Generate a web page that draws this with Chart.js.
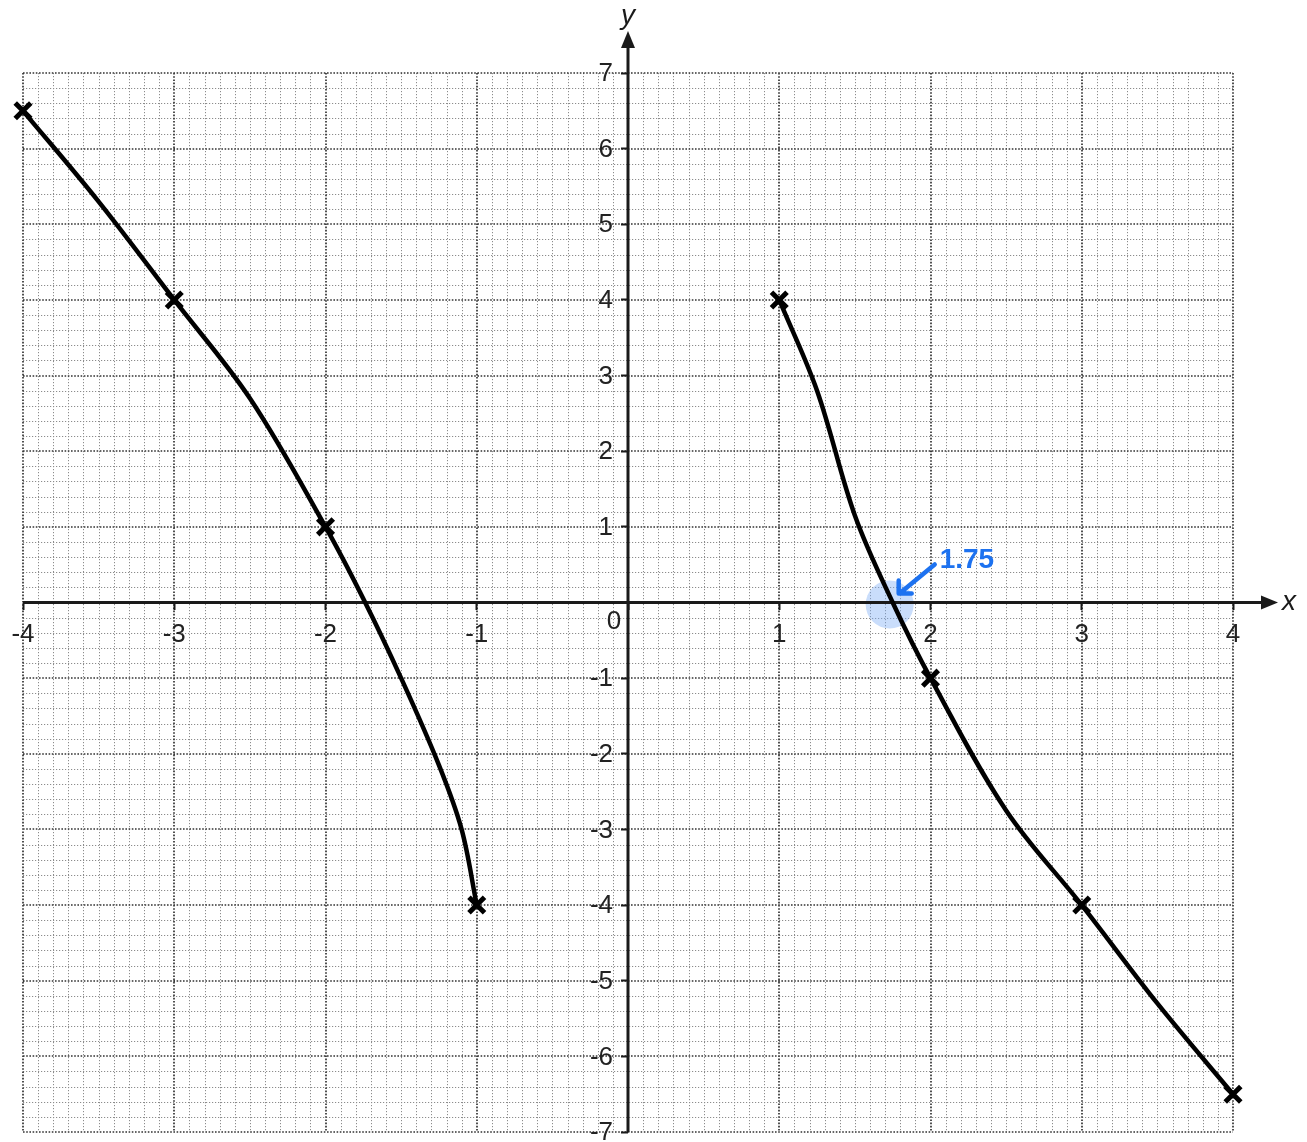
<!DOCTYPE html>
<html>
<head>
<meta charset="utf-8">
<script src="https://cdn.jsdelivr.net/npm/chart.js@4.4.1/dist/chart.umd.min.js"></script>
<style>
    html, body { margin: 0; padding: 0; background: #fff; overflow: hidden; }
    /* cao hơn cửa sổ một chút: phần đệm tối thiểu của điểm đánh dấu là 16px */
    #wrap { width: 1307px; height: 1148px; }
</style>
</head>
<body>
<div id="wrap"><canvas id="graphChart"></canvas></div>
<script>
// Dữ liệu: nhánh trái và nhánh phải của đường cong
const leftX = [-4, -3.5, -3, -2.5, -2, -1.75, -1.5, -1.25, -1.1, -1];
const leftY = [6.5, 5.3, 4, 2.7, 1, 0.05, -1, -2.15, -3.0, -4];
const rightX = [1, 1.25, 1.5, 1.75, 2, 2.5, 3, 3.5, 4];
const rightY = [4, 2.8, 1.15, 0, -1, -2.75, -4, -5.3, -6.5];

// Các điểm được đánh dấu bằng chữ x
const markX = [-4, -3, -2, -1, 1, 2, 3, 4];
const markY = [6.5, 4, 1, -4, 4, -1, -4, -6.5];

// Trục và nhãn
const xTicks = [-4, -3, -2, -1, 0, 1, 2, 3, 4];
const yTicks = [-7, -6, -5, -4, -3, -2, -1, 0, 1, 2, 3, 4, 5, 6, 7];
const rootValue = 1.75;
const rootLabel = '1.75';

const FONT = '"Liberation Sans", Arial, sans-serif';

function toPoints(xs, ys) {
    return xs.map((x, i) => ({ x: x, y: ys[i] }));
}

// Bỏ phần đệm mà trục tự thêm, để vùng vẽ khớp với layout.padding
function noPadding(scale) {
    scale.paddingLeft = 0;
    scale.paddingRight = 0;
    scale.paddingTop = 0;
    scale.paddingBottom = 0;
}

// Plugin vẽ lưới ô vuông, trục có mũi tên và chú thích màu xanh
const graphPaper = {
    id: 'graphPaper',
    beforeDraw(chart) {
        const { ctx, chartArea: a, scales: { x, y } } = chart;
        ctx.save();
        ctx.fillStyle = '#fff';
        ctx.fillRect(0, 0, chart.width, chart.height);

        // lưới nhỏ
        ctx.lineWidth = 1;
        ctx.strokeStyle = '#8c8c8c';
        ctx.setLineDash([1.2, 1.8]);
        ctx.beginPath();
        for (let i = -40; i <= 40; i++) {
            if (i % 10 === 0) continue;
            const px = Math.round(x.getPixelForValue(i / 10)) + 0.5;
            ctx.moveTo(px, a.top);
            ctx.lineTo(px, a.bottom);
        }
        for (let j = -35; j <= 35; j++) {
            if (j % 5 === 0) continue;
            const py = Math.round(y.getPixelForValue(j / 5)) + 0.5;
            ctx.moveTo(a.left, py);
            ctx.lineTo(a.right, py);
        }
        ctx.stroke();

        // lưới chính, mỗi đơn vị
        ctx.strokeStyle = '#333';
        ctx.lineWidth = 1.7;
        ctx.setLineDash([1.6, 1.6]);
        ctx.beginPath();
        xTicks.forEach(v => {
            const px = Math.round(x.getPixelForValue(v));
            ctx.moveTo(px, a.top);
            ctx.lineTo(px, a.bottom);
        });
        yTicks.forEach(v => {
            const py = Math.round(y.getPixelForValue(v));
            ctx.moveTo(a.left, py);
            ctx.lineTo(a.right, py);
        });
        ctx.stroke();
        ctx.restore();
    },
    beforeDatasetsDraw(chart) {
        const { ctx, chartArea: a, scales: { x, y } } = chart;
        const x0 = x.getPixelForValue(0);
        const y0 = y.getPixelForValue(0);
        ctx.save();

        // vòng tròn xanh nhạt tại nghiệm
        const rx = x.getPixelForValue(rootValue);
        ctx.fillStyle = 'rgba(120, 170, 245, 0.4)';
        ctx.beginPath();
        ctx.arc(rx - 3, y0 + 2, 24, 0, Math.PI * 2);
        ctx.fill();

        // trục
        ctx.strokeStyle = '#1a1a1a';
        ctx.fillStyle = '#1a1a1a';
        ctx.lineWidth = 3;
        ctx.beginPath();
        ctx.moveTo(a.left, y0);
        ctx.lineTo(a.right + 32, y0);
        ctx.moveTo(x0, a.bottom);
        ctx.lineTo(x0, a.top - 28);
        ctx.stroke();

        // mũi tên
        ctx.beginPath();
        ctx.moveTo(a.right + 45, y0);
        ctx.lineTo(a.right + 28, y0 - 7);
        ctx.lineTo(a.right + 28, y0 + 7);
        ctx.closePath();
        ctx.fill();
        ctx.beginPath();
        ctx.moveTo(x0, a.top - 42);
        ctx.lineTo(x0 - 7, a.top - 25);
        ctx.lineTo(x0 + 7, a.top - 25);
        ctx.closePath();
        ctx.fill();

        // tên trục
        ctx.font = 'italic 28px ' + FONT;
        ctx.textAlign = 'center';
        ctx.textBaseline = 'middle';
        ctx.fillText('x', a.right + 56, y0);
        ctx.fillText('y', x0, a.top - 57);

        // nhãn trục y (bên trái trục) và số 0
        ctx.font = '26px ' + FONT;
        ctx.fillStyle = '#222';
        ctx.textAlign = 'right';
        yTicks.forEach(v => {
            if (v === 0) return;
            ctx.fillText(String(v), x0 - 15, y.getPixelForValue(v) + 1);
        });
        ctx.textAlign = 'center';
        ctx.fillText('0', x0 - 14, y0 + 19);
        ctx.restore();
    },
    afterDatasetsDraw(chart) {
        const { ctx, scales: { x, y } } = chart;
        const rx = x.getPixelForValue(rootValue);
        const y0 = y.getPixelForValue(0);
        ctx.save();
        ctx.strokeStyle = '#1d72f0';
        ctx.fillStyle = '#1d72f0';
        ctx.lineWidth = 4.5;
        ctx.lineCap = 'round';
        ctx.lineJoin = 'round';
        // mũi tên chỉ vào nghiệm
        ctx.beginPath();
        ctx.moveTo(rx + 42, y0 - 38);
        ctx.lineTo(rx + 8, y0 - 10);
        ctx.moveTo(rx + 6, y0 - 22);
        ctx.lineTo(rx + 6, y0 - 9);
        ctx.lineTo(rx + 19, y0 - 9);
        ctx.stroke();
        ctx.font = 'bold 28px ' + FONT;
        ctx.textAlign = 'left';
        ctx.textBaseline = 'middle';
        ctx.fillText(rootLabel, rx + 47, y0 - 42);
        ctx.restore();
    }
};

function buildChart() {
    const config = {
        type: 'scatter',
        data: {
            datasets: [
                {
                    type: 'line',
                    data: toPoints(leftX, leftY),
                    borderColor: '#000',
                    borderWidth: 4.5,
                    tension: 0.35,
                    pointRadius: 0,
                    fill: false,
                    clip: false
                },
                {
                    type: 'line',
                    data: toPoints(rightX, rightY),
                    borderColor: '#000',
                    borderWidth: 4.5,
                    tension: 0.35,
                    pointRadius: 0,
                    fill: false,
                    clip: false
                },
                {
                    data: toPoints(markX, markY),
                    pointStyle: 'crossRot',
                    pointRadius: 11,
                    borderColor: '#000',
                    borderWidth: 5,
                    backgroundColor: '#000',
                    clip: false
                }
            ]
        },
        options: {
            responsive: true,
            maintainAspectRatio: false,
            animation: false,
            layout: { padding: { left: 23, right: 74, top: 73, bottom: 0 } },
            plugins: {
                legend: { display: false },
                tooltip: { enabled: false }
            },
            scales: {
                x: {
                    type: 'linear',
                    min: -4,
                    max: 4,
                    position: { y: 0 },
                    afterFit: noPadding,
                    afterBuildTicks: s => { s.ticks = xTicks.map(v => ({ value: v })); },
                    ticks: {
                        callback: v => (v === 0 ? '' : String(v)),
                        color: '#222',
                        font: { family: FONT, size: 26 },
                        padding: 10,
                        autoSkip: false,
                        maxRotation: 0
                    },
                    grid: { drawOnChartArea: false, tickLength: 7, tickWidth: 2, tickColor: '#1a1a1a' },
                    border: { display: false }
                },
                y: {
                    type: 'linear',
                    min: -7,
                    max: 7,
                    position: { x: 0 },
                    afterFit: noPadding,
                    afterBuildTicks: s => { s.ticks = yTicks.map(v => ({ value: v })); },
                    ticks: { display: false },
                    grid: { drawOnChartArea: false, tickLength: 7, tickWidth: 2, tickColor: '#1a1a1a' },
                    border: { display: false }
                }
            }
        },
        plugins: [graphPaper]
    };
    return new Chart(document.getElementById('graphChart').getContext('2d'), config);
}

buildChart();
</script>
</body>
</html>
